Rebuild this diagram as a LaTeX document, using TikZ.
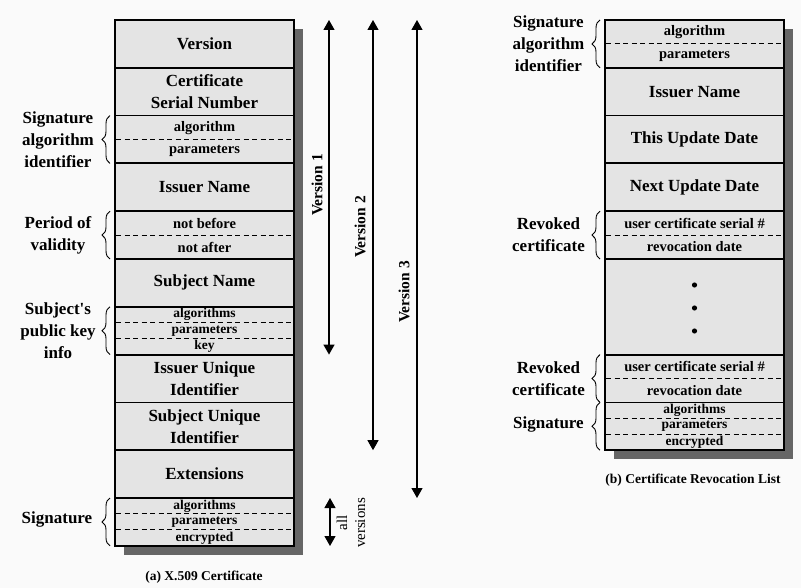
\documentclass[tikz,border=0pt]{standalone}
\usepackage{fontspec}
\setmainfont{Liberation Serif}
\usetikzlibrary{arrows.meta,decorations.pathreplacing}
\definecolor{cellgray}{RGB}{228,228,228}
\definecolor{shadowgray}{RGB}{102,102,102}
\definecolor{bggray}{RGB}{250,250,250}
\newcommand{\fBig}{\fontsize{17}{22}\selectfont\bfseries}
\newcommand{\fMid}{\fontsize{14.5}{17}\selectfont\bfseries}
\newcommand{\fSmall}{\fontsize{13.5}{15}\selectfont\bfseries}
\newcommand{\fVer}{\fontsize{15.5}{18}\selectfont\bfseries}
\newcommand{\fCap}{\fontsize{13.5}{16}\selectfont\bfseries}
\newcommand{\fAll}{\fontsize{15}{18}\selectfont}
\begin{document}
\begin{tikzpicture}[x=1pt,y=-1pt,
  rowbox/.style={draw=black,line width=1.8pt,fill=cellgray,minimum width=179pt,minimum height=47.8pt,inner sep=0pt,align=center,font=\fBig},
  subtext/.style={inner sep=0pt,font=\fMid},
  tinytext/.style={inner sep=0pt,font=\fSmall},
  dashline/.style={line width=1.1pt,dash pattern=on 5pt off 3.5pt},
  boxframe/.style={draw=black,line width=2.4pt},
  sidelabel/.style={align=center,font=\fBig,inner sep=0pt},
  bracestyle/.style={decorate,decoration={brace,amplitude=8pt},line width=0.9pt},
  spanarrow/.style={line width=1.2pt,{Triangle[width=11pt,length=10pt]}-{Triangle[width=11pt,length=10pt]}},
  verlabel/.style={rotate=90,font=\fVer,inner sep=0pt},
  captext/.style={font=\fCap,inner sep=0pt}]
\useasboundingbox (0,0) rectangle (801,588);
\fill[bggray] (0,0) rectangle (801,588);

% ---------------- (a) X.509 certificate ----------------
\fill[shadowgray] (124,29) rectangle (303,554.8);
\node[rowbox] (ver) at (204.5,43.9) {Version};
\node[rowbox] (csn) at (204.5,91.7) {Certificate\\Serial Number};
\node[rowbox] (sai) at (204.5,139.5) {};
\node[rowbox] (isn) at (204.5,187.3) {Issuer Name};
\node[rowbox] (pov) at (204.5,235.1) {};
\node[rowbox] (sbn) at (204.5,282.9) {Subject Name};
\node[rowbox] (spk) at (204.5,330.7) {};
\node[rowbox] (iui) at (204.5,378.5) {Issuer Unique\\Identifier};
\node[rowbox] (sui) at (204.5,426.3) {Subject Unique\\Identifier};
\node[rowbox] (ext) at (204.5,474.1) {Extensions};
\node[rowbox] (sig) at (204.5,521.9) {};
\draw[boxframe] (115,20) rectangle (294,545.8);

\draw[dashline] (116,139.5) -- (293,139.5);
\node[subtext] (saialg) at (204.5,127.6) {algorithm};
\node[subtext] (saipar) at (204.5,151.4) {parameters};
\draw[dashline] (116,235.1) -- (293,235.1);
\node[subtext] (povnb) at (204.5,223.2) {not before};
\node[subtext] (povna) at (204.5,247.0) {not after};
\draw[dashline] (116,322.7) -- (293,322.7);
\draw[dashline] (116,338.7) -- (293,338.7);
\node[tinytext] (spkalg) at (204.5,314.8) {algorithms};
\node[tinytext] (spkpar) at (204.5,330.7) {parameters};
\node[tinytext] (spkkey) at (204.5,346.6) {key};
\draw[dashline] (116,513.9) -- (293,513.9);
\draw[dashline] (116,529.9) -- (293,529.9);
\node[tinytext] (sigalg) at (204.5,506.0) {algorithms};
\node[tinytext] (sigpar) at (204.5,521.9) {parameters};
\node[tinytext] (sigenc) at (204.5,537.8) {encrypted};

% braces and labels (left)
\draw[bracestyle] (110,163.4) -- (110,115.6);
\node[sidelabel] (lsai) at (58,139.5) {Signature\\algorithm\\identifier};
\draw[bracestyle] (110,259) -- (110,211.2);
\node[sidelabel] (lpov) at (58,235.1) {Period of\\validity};
\draw[bracestyle] (110,354.6) -- (110,306.8);
\node[sidelabel] (lspk) at (58,330.7) {Subject\textquotesingle s\\public key\\info};
\draw[bracestyle] (110,545.8) -- (110,498);
\node[sidelabel] (lsig) at (57,519.5) {Signature};

% version arrows
\coordinate (v1t) at (329,20);
\coordinate (v1b) at (329,354.6);
\coordinate (v2t) at (373,20);
\coordinate (v2b) at (373,450.2);
\coordinate (v3t) at (417,20);
\coordinate (v3b) at (417,498);
\coordinate (avt) at (330,498);
\coordinate (avb) at (330,546);
\draw[spanarrow] (v1t) -- (v1b);
\draw[spanarrow] (v2t) -- (v2b);
\draw[spanarrow] (v3t) -- (v3b);
\draw[spanarrow] (avt) -- (avb);
\node[verlabel] (lv1) at (317,185) {Version 1};
\node[verlabel] (lv2) at (360,227) {Version 2};
\node[verlabel] (lv3) at (404,292) {Version 3};
\node[rotate=90,align=center,font=\fAll,inner sep=0pt] (lav) at (351,523) {all\\versions};

\node[captext] (capa) at (204,577) {(a) X.509 Certificate};

% ---------------- (b) CRL ----------------
\fill[shadowgray] (614,29) rectangle (793,459.2);
\node[rowbox] (rsai) at (694.5,43.9) {};
\node[rowbox] (risn) at (694.5,91.7) {Issuer Name};
\node[rowbox] (rtud) at (694.5,139.5) {This Update Date};
\node[rowbox] (rnud) at (694.5,187.3) {Next Update Date};
\node[rowbox] (rrc1) at (694.5,235.1) {};
\node[rowbox,minimum height=95.6pt] (rdots) at (694.5,306.8) {};
\node[rowbox] (rrc2) at (694.5,378.5) {};
\node[rowbox] (rsig) at (694.5,426.3) {};
\draw[boxframe] (605,20) rectangle (784,450.2);

\draw[dashline] (606,43.9) -- (783,43.9);
\node[subtext] (rsaialg) at (694.5,32.0) {algorithm};
\node[subtext] (rsaipar) at (694.5,55.8) {parameters};
\draw[dashline] (606,235.1) -- (783,235.1);
\node[subtext] (rrc1a) at (694.5,223.2) {user certificate serial \#};
\node[subtext] (rrc1b) at (694.5,247.0) {revocation date};
\fill (694.5,285) circle (2.6pt);
\fill (694.5,308) circle (2.6pt);
\fill (694.5,331) circle (2.6pt);
\draw[dashline] (606,378.5) -- (783,378.5);
\node[subtext] (rrc2a) at (694.5,366.6) {user certificate serial \#};
\node[subtext] (rrc2b) at (694.5,390.4) {revocation date};
\draw[dashline] (606,418.3) -- (783,418.3);
\draw[dashline] (606,434.3) -- (783,434.3);
\node[tinytext] (rsigalg) at (694.5,410.4) {algorithms};
\node[tinytext] (rsigpar) at (694.5,426.3) {parameters};
\node[tinytext] (rsigenc) at (694.5,442.2) {encrypted};

% braces and labels (right)
\draw[bracestyle] (600,67.8) -- (600,20);
\node[sidelabel] (rlsai) at (548.5,43.9) {Signature\\algorithm\\identifier};
\draw[bracestyle] (600,259) -- (600,211.2);
\node[sidelabel] (rlrc1) at (548.5,235.1) {Revoked\\certificate};
\draw[bracestyle] (600,402.4) -- (600,354.6);
\node[sidelabel] (rlrc2) at (548.5,378.5) {Revoked\\certificate};
\draw[bracestyle] (600,450.2) -- (600,402.4);
\node[sidelabel] (rlsig) at (548.5,424) {Signature};

\node[captext] (capb) at (693,480) {(b) Certificate Revocation List};
\end{tikzpicture}
\end{document}
